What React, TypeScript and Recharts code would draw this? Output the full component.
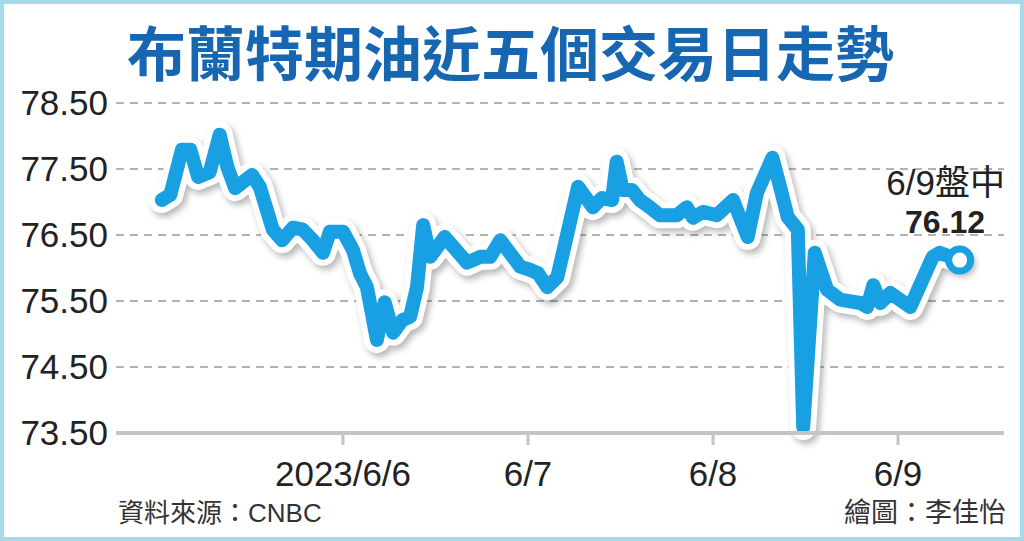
import React from "react";
import { LineChart, Line, XAxis, YAxis, CartesianGrid, ReferenceDot } from "recharts";

// hours since 2023/6/6 00:00
const hours = [
  -23.5, -22.4, -20.9, -19.8, -18.8, -17.3, -16.0, -15.0, -14.0, -11.8, -10.8, -9.1, -7.9, -6.5, -5.2,
  -3.9, -2.6, -1.7, 0, 1.3, 2.2, 3.1, 4.4, 5.4, 6.5, 7.7, 8.7, 9.6, 10.4, 11.3, 13.2, 16.1, 17.8, 19.1,
  20.4, 23.0, 24.3, 25.3, 26.5, 27.8, 30.5, 32.4, 33.6, 34.9, 35.5, 36.3, 37.5, 38.5, 39.8, 41.1, 43.3,
  44.6, 45.4, 46.7, 48.5, 50.6, 52.5, 53.7, 55.7, 56.7, 57.7, 59.0, 59.7, 61.2, 62.8, 64.5, 67.1, 68.0,
  68.8, 69.7, 71.0, 73.6, 76.5, 77.4, 80.0,
];
const prices = [
  77.03, 77.11, 77.79, 77.79, 77.38, 77.45, 78.02, 77.53, 77.21, 77.41, 77.23, 76.58, 76.42, 76.61, 76.58,
  76.42, 76.23, 76.55, 76.55, 76.27, 75.92, 75.71, 74.91, 75.48, 75.02, 75.21, 75.26, 75.71, 76.65, 76.17,
  76.47, 76.08, 76.17, 76.17, 76.42, 76.02, 75.97, 75.92, 75.71, 75.86, 77.23, 76.92, 77.06, 77.03, 77.61,
  77.18, 77.18, 77.03, 76.92, 76.8, 76.8, 76.92, 76.76, 76.85, 76.8, 77.03, 76.47, 77.14, 77.67, 77.23,
  76.77, 76.58, 73.59, 76.23, 75.67, 75.52, 75.47, 75.41, 75.74, 75.47, 75.62, 75.41, 76.17, 76.23, 76.12,
];
const xTicks = [0, 24, 48, 72];
const xTickLabels = ["2023/6/6", "6/7", "6/8", "6/9"];
const yTicks = [73.5, 74.5, 75.5, 76.5, 77.5, 78.5];
const title = "布蘭特期油近五個交易日走勢";
const lastLabel = "6/9盤中";
const lastValue = "76.12";
const source = "資料來源：CNBC";
const credit = "繪圖：李佳怡";

const data = hours.map((h, i) => ({ h, p: prices[i] }));
const last = data[data.length - 1];

const LINE = "#19a0e3";
const FONT = "'Liberation Sans', Arial, 'Noto Sans CJK TC', sans-serif";

const XTick = (props: any) => {
  const { x, y, payload } = props;
  const idx = xTicks.indexOf(payload.value);
  return (
    <text x={x} y={y + 39} textAnchor="middle" fontSize={36} fill="#222" fontFamily={FONT} transform={`translate(${x},0) scale(0.97,1) translate(${-x},0)`}>
      {xTickLabels[idx]}
    </text>
  );
};

const YTick = (props: any) => {
  const { x, y, payload } = props;
  return (
    <text x={x} y={y + 12} textAnchor="end" fontSize={35} fill="#222" fontFamily={FONT}>
      {payload.value.toFixed(2)}
    </text>
  );
};

export default function App() {
  return (
    <div style={{ position: "absolute", left: 0, top: 0, width: 1024, height: 541, background: "#fff", overflow: "hidden" }}>
      <style>{`.shadowLine path { filter: drop-shadow(3px 4px 3px rgba(0,0,0,0.28)); }`}</style>
      <div
        style={{
          position: "absolute",
          left: 127,
          top: 17,
          fontFamily: "'Noto Sans CJK TC', sans-serif",
          fontWeight: 700,
          fontSize: 59,
          lineHeight: "68px",
          color: "#1666b2",
          whiteSpace: "nowrap",
          letterSpacing: 0,
        }}
      >
        {title}
      </div>
      <div style={{ position: "absolute", left: 0, top: 0 }}>
        <LineChart width={1024} height={541} data={data} margin={{ top: 103, right: 20, bottom: 0, left: 0 }}>
          <CartesianGrid vertical={false} stroke="#9a9a9a" strokeDasharray="8 6" strokeWidth={1.5} />
          <XAxis
            dataKey="h"
            type="number"
            domain={[-29.45, 85.75]}
            ticks={xTicks}
            tick={<XTick />}
            tickSize={12}
            tickLine={{ stroke: "#c4c4c4", strokeWidth: 3 }}
            axisLine={{ stroke: "#c4c4c4", strokeWidth: 4 }}
            height={108}
            allowDataOverflow
          />
          <YAxis
            type="number"
            domain={[73.5, 78.5]}
            ticks={yTicks}
            tick={<YTick />}
            tickSize={0}
            tickMargin={8}
            axisLine={false}
            tickLine={false}
            width={116}
          />
          <Line
            dataKey="p"
            className="shadowLine"
            stroke="#ffffff"
            strokeWidth={26}
            strokeLinejoin="round"
            strokeLinecap="round"
            dot={false}
            activeDot={false}
            isAnimationActive={false}
          />
          <Line
            dataKey="p"
            stroke={LINE}
            strokeWidth={14}
            strokeLinejoin="round"
            strokeLinecap="round"
            dot={false}
            activeDot={false}
            isAnimationActive={false}
          />
          <ReferenceDot x={last.h} y={last.p} r={11} fill="#fff" stroke={LINE} strokeWidth={7} />
        </LineChart>
      </div>
      <div
        style={{
          position: "absolute",
          right: 19,
          top: 162,
          fontFamily: FONT,
          fontSize: 35,
          lineHeight: "42px",
          color: "#222",
          whiteSpace: "nowrap",
          textAlign: "right",
        }}
      >
        {lastLabel}
      </div>
      <div
        style={{
          position: "absolute",
          left: 905,
          top: 203,
          fontFamily: FONT,
          fontSize: 32,
          fontWeight: 700,
          lineHeight: "38px",
          color: "#222",
          whiteSpace: "nowrap",
        }}
      >
        {lastValue}
      </div>
      <div style={{ position: "absolute", left: 118, top: 497, fontFamily: FONT, fontSize: 26, lineHeight: "32px", color: "#333", whiteSpace: "nowrap" }}>
        {source}
      </div>
      <div style={{ position: "absolute", right: 18, top: 497, fontFamily: FONT, fontSize: 27, lineHeight: "32px", color: "#333", whiteSpace: "nowrap" }}>
        {credit}
      </div>
      <div style={{ position: "absolute", left: 0, top: 0, width: 1024, height: 541, boxSizing: "border-box", border: "4px solid #a5d9ec", pointerEvents: "none" }} />
    </div>
  );
}
